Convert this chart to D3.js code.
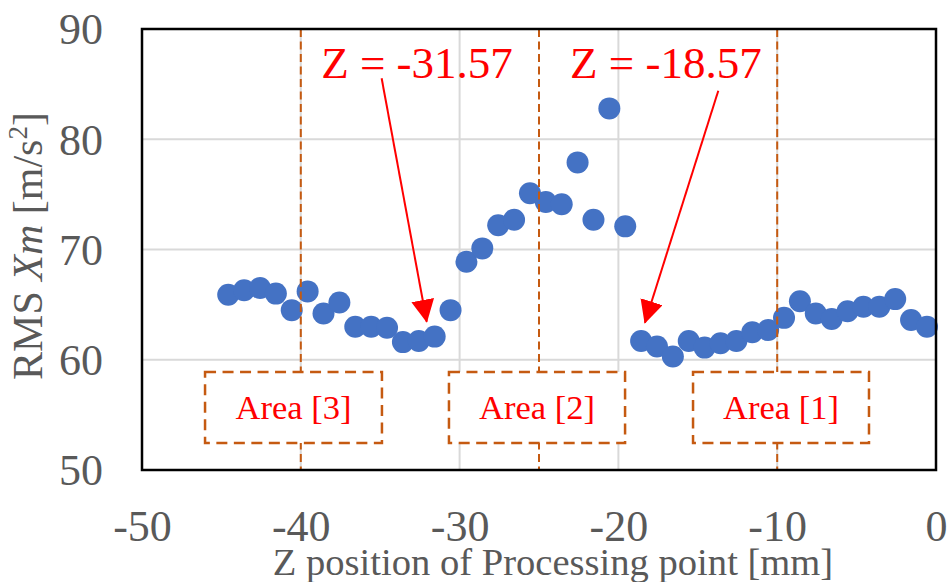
<!DOCTYPE html>
<html>
<head>
<meta charset="utf-8">
<script src="https://cdn.jsdelivr.net/npm/d3@7"></script>
<style>
  html, body { margin: 0; padding: 0; background: #ffffff; }
  svg { display: block; }
</style>
</head>
<body>
<svg id="chart" width="949" height="582"></svg>
<script>
// Measurement positions along Z [mm] and the RMS acceleration at each one
const zPositions = [
  -44.57, -43.57, -42.57, -41.57, -40.57, -39.57, -38.57, -37.57, -36.57, -35.57,
  -34.57, -33.57, -32.57, -31.57, -30.57, -29.57, -28.57, -27.57, -26.57, -25.57,
  -24.57, -23.57, -22.57, -21.57, -20.57, -19.57, -18.57, -17.57, -16.57, -15.57,
  -14.57, -13.57, -12.57, -11.57, -10.57, -9.57, -8.57, -7.57, -6.57, -5.57,
  -4.57, -3.57, -2.57, -1.57, -0.57
];
const rmsValues = [
  65.9, 66.3, 66.5, 66.0, 64.5, 66.2, 64.2, 65.2, 63.0, 63.0,
  62.9, 61.6, 61.7, 62.1, 64.5, 68.9, 70.1, 72.2, 72.7, 75.1,
  74.3, 74.1, 77.9, 72.7, 82.8, 72.1, 61.7, 61.2, 60.3, 61.7,
  61.1, 61.5, 61.7, 62.5, 62.7, 63.8, 65.3, 64.2, 63.7, 64.4,
  64.8, 64.8, 65.5, 63.6, 63.0
];

// Axis ticks
const xTicks = [-50, -40, -30, -20, -10, 0];
const yTicks = [50, 60, 70, 80, 90];

// Area boundaries (dashed verticals) and the labelled areas
const boundaries = [-40, -25, -10];
const areaLabels = ["Area [3]", "Area [2]", "Area [1]"];
const areaSpans = [[-46.03, -34.89], [-30.67, -19.58], [-15.30, -4.22]];
const areaYSpan = [52.45, 58.89];

// Callouts: label, label centre, arrow start and arrow tip (data units)
const calloutLabels = ["Z = -31.57", "Z = -18.57"];
const calloutTextPos = [[-32.68, 85.6], [-17.01, 85.56]];
const calloutFrom = [[-34.91, 85.53], [-13.71, 84.40]];
const calloutTo = [[-32.07, 63.45], [-18.33, 63.36]];

const serif = "'Liberation Serif', 'Times New Roman', serif";
const gray = "#595959";
const orange = "#C55A11";
const plainNumber = d => String(d);

const svg = d3.select("#chart");
const x = d3.scaleLinear().domain([-50, 0]).range([142, 936]);
const y = d3.scaleLinear().domain([50, 90]).range([470, 29]);

// Gridlines
svg.append("g").selectAll("line").data(xTicks).join("line")
  .attr("x1", d => x(d)).attr("x2", d => x(d))
  .attr("y1", y(90)).attr("y2", y(50))
  .attr("stroke", "#d9d9d9").attr("stroke-width", 2);
svg.append("g").selectAll("line").data(yTicks).join("line")
  .attr("x1", x(-50)).attr("x2", x(0))
  .attr("y1", d => y(d)).attr("y2", d => y(d))
  .attr("stroke", "#d9d9d9").attr("stroke-width", 2);

// Data points
svg.append("g").selectAll("circle").data(zPositions).join("circle")
  .attr("cx", d => x(d))
  .attr("cy", (d, i) => y(rmsValues[i]))
  .attr("r", 11)
  .attr("fill", "#4472C4");

// Area boundaries
svg.append("g").selectAll("line").data(boundaries).join("line")
  .attr("x1", d => x(d)).attr("x2", d => x(d))
  .attr("y1", y(90)).attr("y2", y(50))
  .attr("stroke", orange).attr("stroke-width", 2)
  .attr("stroke-dasharray", "8,4.5");

// Area boxes with labels
const areas = svg.append("g").selectAll("g").data(areaSpans).join("g");
areas.append("rect")
  .attr("x", d => x(d[0]))
  .attr("y", y(areaYSpan[1]))
  .attr("width", d => x(d[1]) - x(d[0]))
  .attr("height", y(areaYSpan[0]) - y(areaYSpan[1]))
  .attr("fill", "#ffffff")
  .attr("stroke", orange).attr("stroke-width", 2.5)
  .attr("stroke-dasharray", "11,6.5");
areas.append("text")
  .attr("x", d => (x(d[0]) + x(d[1])) / 2)
  .attr("y", (y(areaYSpan[0]) + y(areaYSpan[1])) / 2 + 12)
  .attr("text-anchor", "middle")
  .attr("font-family", serif).attr("font-size", 34.5)
  .attr("fill", "#FF0000")
  .text((d, i) => areaLabels[i]);

// Callout arrows
const defs = svg.append("defs");
defs.append("marker")
  .attr("id", "arrowHead")
  .attr("markerUnits", "userSpaceOnUse")
  .attr("viewBox", "0 0 23 23")
  .attr("refX", 22).attr("refY", 11.5)
  .attr("markerWidth", 23).attr("markerHeight", 23)
  .attr("orient", "auto")
  .append("path")
  .attr("d", "M0,0 L23,11.5 L0,23 Z")
  .attr("fill", "#FF0000");

svg.append("g").selectAll("line").data(calloutFrom).join("line")
  .attr("x1", d => x(d[0])).attr("y1", d => y(d[1]))
  .attr("x2", (d, i) => x(calloutTo[i][0]))
  .attr("y2", (d, i) => y(calloutTo[i][1]))
  .attr("stroke", "#FF0000").attr("stroke-width", 2)
  .attr("marker-end", "url(#arrowHead)");

svg.append("g").selectAll("text").data(calloutTextPos).join("text")
  .attr("x", d => x(d[0])).attr("y", d => y(d[1]))
  .attr("text-anchor", "middle")
  .attr("font-family", serif).attr("font-size", 45)
  .attr("fill", "#FF0000")
  .text((d, i) => calloutLabels[i]);

// Plot frame
svg.append("rect")
  .attr("x", x(-50)).attr("y", y(90))
  .attr("width", x(0) - x(-50)).attr("height", y(50) - y(90))
  .attr("fill", "none").attr("stroke", "#000000").attr("stroke-width", 2.5);

// Axes
const xAxis = svg.append("g")
  .attr("transform", `translate(0,${y(50)})`)
  .call(d3.axisBottom(x).tickValues(xTicks).tickSize(0).tickPadding(0).tickFormat(plainNumber));
xAxis.select(".domain").remove();
xAxis.selectAll("text")
  .attr("y", 71).attr("dy", null)
  .attr("font-family", serif).attr("font-size", 44)
  .attr("fill", gray);

const yAxis = svg.append("g")
  .attr("transform", `translate(103,0)`)
  .call(d3.axisLeft(y).tickValues(yTicks).tickSize(0).tickPadding(0).tickFormat(plainNumber));
yAxis.select(".domain").remove();
yAxis.selectAll("text")
  .attr("x", 0).attr("dy", "0.34em")
  .attr("font-family", serif).attr("font-size", 44)
  .attr("fill", gray);

// Axis titles
svg.append("text")
  .attr("x", 553).attr("y", 575)
  .attr("text-anchor", "middle")
  .attr("font-family", serif).attr("font-size", 38.6)
  .attr("fill", gray)
  .text("Z position of Processing point [mm]");

const yTitle = svg.append("text")
  .attr("transform", "translate(42,246) rotate(-90)")
  .attr("text-anchor", "middle")
  .attr("font-family", serif).attr("font-size", 42)
  .attr("fill", gray);
yTitle.append("tspan").text("RMS ");
yTitle.append("tspan").attr("font-style", "italic").text("Xm");
yTitle.append("tspan").text(" [m/s");
yTitle.append("tspan").attr("baseline-shift", "super").attr("font-size", 27).text("2");
yTitle.append("tspan").text("]");
</script>
</body>
</html>
